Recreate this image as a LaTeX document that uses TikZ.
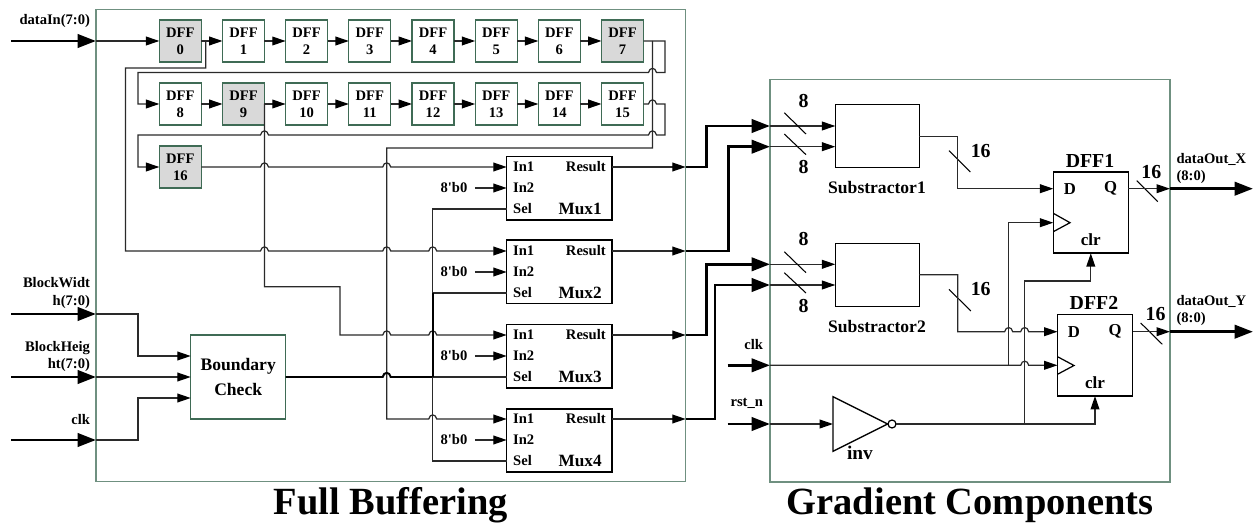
\documentclass[tikz,border=0pt]{standalone}
\usepackage{fontspec}
\usepackage{tikz}
\usetikzlibrary{positioning, arrows.meta}
\newfontfamily\diagfont{Liberation Serif}
\definecolor{framegreen}{HTML}{6F9080}
\definecolor{dffgreen}{HTML}{3F6B55}
\definecolor{wiregray}{HTML}{2A2A2A}
\newcommand{\hop}[2]{-- (#1-4,#2) .. controls (#1-3,#2-5.5) and (#1+3,#2-5.5) .. (#1+4,#2)}
\newcommand{\hopl}[2]{-- (#1+4,#2) .. controls (#1+3,#2-5.5) and (#1-3,#2-5.5) .. (#1-4,#2)}
\newcommand{\txt}[2]{\diagfont\bfseries\fontsize{#1}{#2}\selectfont}
\begin{document}
\begin{tikzpicture}[
x=0.02cm, y=-0.02cm,
every node/.style={inner sep=0pt, outer sep=0pt, align=center, font=\txt{8.3}{9.8}},
frame/.style={rectangle, draw=framegreen, line width=0.8pt},
dff/.style={rectangle, draw=dffgreen, line width=0.7pt, minimum size=8.4mm},
dffgray/.style={dff, fill=black!15},
mux/.style={rectangle, draw=black, line width=0.9pt, minimum width=21.1mm, minimum height=12.7mm},
sub/.style={rectangle, draw=black, line width=0.9pt, minimum width=16.8mm, minimum height=12.6mm},
ff/.style={rectangle, draw=black, line width=0.9pt, minimum width=15mm, minimum height=16.3mm},
portin/.style={anchor=west, inner xsep=3.7pt, inner ysep=1pt},
portout/.style={anchor=east, inner xsep=3.6pt, inner ysep=1pt},
const/.style={inner xsep=4.2pt, inner ysep=1pt},
muxname/.style={anchor=east, font=\txt{9.8}{11}},
bits/.style={font=\txt{11.3}{13}},
title/.style={font=\txt{21.9}{26}},
inlabel/.style={anchor=east, align=right},
outlabel/.style={anchor=west, align=left},
net/.style={draw=wiregray, line width=0.7pt},
wire/.style={net, -{Triangle[length=7.6pt,width=5pt,color=black]}},
bus/.style={draw=black, line width=1.7pt, -{Triangle[length=10.5pt,width=7.6pt]}},
slash/.style={draw=black, line width=0.6pt}
]
\useasboundingbox (0,0) rectangle (1255,527);
\node[frame, minimum width=117.9mm, minimum height=94.4mm] (FB) at (390.85,245.7) {};
\node[frame, minimum width=80mm, minimum height=80.5mm] (GC) at (970,280.7) {};
\node[title] (FBname) at (391,505) {Full Buffering};
\node[title] (GCname) at (970,505) {Gradient Components};
\node[dffgray] (D0) at (180.3,41) {DFF\\0};
\node[dff] (D1) at (243.5,41) {DFF\\1};
\node[dff] (D2) at (306.6,41) {DFF\\2};
\node[dff] (D3) at (369.8,41) {DFF\\3};
\node[dff] (D4) at (433,41) {DFF\\4};
\node[dff] (D5) at (496.2,41) {DFF\\5};
\node[dff] (D6) at (559.3,41) {DFF\\6};
\node[dffgray] (D7) at (622.5,41) {DFF\\7};
\node[dff] (D8) at (180.3,104) {DFF\\8};
\node[dffgray] (D9) at (243.5,104) {DFF\\9};
\node[dff] (D10) at (306.6,104) {DFF\\10};
\node[dff] (D11) at (369.8,104) {DFF\\11};
\node[dff] (D12) at (433,104) {DFF\\12};
\node[dff] (D13) at (496.2,104) {DFF\\13};
\node[dff] (D14) at (559.3,104) {DFF\\14};
\node[dff] (D15) at (622.5,104) {DFF\\15};
\node[dffgray] (D16) at (180.3,167) {DFF\\16};
\node[dff, minimum width=19mm, minimum height=16.8mm, font=\txt{10}{12}] (BC) at (238.2,377) {Boundary\\[1.7pt]Check};
\node[mux] (M1) at (559.3,188.3) {};
\node[mux] (M2) at (559.3,271.7) {};
\node[mux] (M3) at (559.3,356.3) {};
\node[mux] (M4) at (559.3,440.5) {};
\node[portin] (M1In1) at (506.7,167) {In1};
\node[portin] (M1In2) at (506.7,188) {In2};
\node[portin] (M1Sel) at (506.7,209) {Sel};
\node[portout] (M1Res) at (612,167) {Result};
\node[muxname] (M1name) at (601.7,209) {Mux1};
\node[const] (M1b) at (454,188) {8'b0};
\node[portin] (M2In1) at (506.7,251) {In1};
\node[portin] (M2In2) at (506.7,272) {In2};
\node[portin] (M2Sel) at (506.7,293) {Sel};
\node[portout] (M2Res) at (612,251) {Result};
\node[muxname] (M2name) at (601.7,293) {Mux2};
\node[const] (M2b) at (454,272) {8'b0};
\node[portin] (M3In1) at (506.7,335) {In1};
\node[portin] (M3In2) at (506.7,356) {In2};
\node[portin] (M3Sel) at (506.7,377) {Sel};
\node[portout] (M3Res) at (612,335) {Result};
\node[muxname] (M3name) at (601.7,377) {Mux3};
\node[const] (M3b) at (454,356) {8'b0};
\node[portin] (M4In1) at (506.7,419) {In1};
\node[portin] (M4In2) at (506.7,440) {In2};
\node[portin] (M4Sel) at (506.7,461) {Sel};
\node[portout] (M4Res) at (612,419) {Result};
\node[muxname] (M4name) at (601.7,461) {Mux4};
\node[const] (M4b) at (454,440) {8'b0};
\node[sub] (S1) at (877.3,136.2) {};
\node[sub] (S2) at (877.3,274.8) {};
\node[font=\txt{10}{12}] (S1name) at (877,187.3) {Substractor1};
\node[font=\txt{10}{12}] (S2name) at (877,327) {Substractor2};
\node[ff] (FF1) at (1090.8,212.5) {};
\node[ff] (FF2) at (1095,355.3) {};
\node[bits] (FF1name) at (1090,160.7) {DFF1};
\node[bits] (FF2name) at (1094,302.7) {DFF2};
\node[font=\txt{9.5}{11}] (FF1D) at (1070,188.7) {D};
\node[font=\txt{9.5}{11}] (FF1Q) at (1110.7,188.7) {Q};
\node[font=\txt{9.7}{11}] (FF1clr) at (1090.8,239.3) {clr};
\node[font=\txt{9.5}{11}] (FF2D) at (1074,331.7) {D};
\node[font=\txt{9.5}{11}] (FF2Q) at (1115,331.7) {Q};
\node[font=\txt{9.7}{11}] (FF2clr) at (1095,382.7) {clr};
\node[circle, draw=black, line width=0.7pt, minimum size=1.6mm] (IB) at (892,424) {};
\node[font=\txt{11}{13}] (INVname) at (860,453) {inv};
\node[inlabel] (Ldata) at (90,20.7) {dataIn(7:0)};
\node[inlabel] (Lw) at (90,293) {BlockWidt\\h(7:0)};
\node[inlabel] (Lh) at (90,356.3) {BlockHeig\\ht(7:0)};
\node[inlabel] (Lclk) at (90,419.7) {clk};
\node[inlabel] (Gclk) at (763,344.3) {clk};
\node[inlabel] (Grst) at (763,403.7) {rst\_n};
\node[outlabel] (Lx) at (1176.5,168.3) {dataOut\_X\\(8:0)};
\node[outlabel] (Ly) at (1176.5,310.8) {dataOut\_Y\\(8:0)};
\node[bits] (B1a) at (803.5,100.7) {8};
\node[bits] (B1b) at (803.5,167) {8};
\node[bits] (B2a) at (803.5,239.3) {8};
\node[bits] (B2b) at (803.5,306) {8};
\node[bits] (B1c) at (980.7,150.7) {16};
\node[bits] (B2c) at (980.7,289.3) {16};
\node[bits] (B1d) at (1151.3,171.7) {16};
\node[bits] (B2d) at (1155.6,314.3) {16};
\coordinate (Pdata) at (11,41);
\coordinate (Edata) at (96,41);
\coordinate (Pw) at (11,314);
\coordinate (Ew) at (96,314);
\coordinate (Ph) at (11,377);
\coordinate (Eh) at (96,377);
\coordinate (Pclk) at (11,440);
\coordinate (Eclk) at (96,440);
\coordinate (O1) at (685.7,167);
\coordinate (O2) at (685.7,251);
\coordinate (O3) at (685.7,335);
\coordinate (O4) at (685.7,419);
\coordinate (G1) at (770,126);
\coordinate (G2) at (770,146.7);
\coordinate (G3) at (770,264.3);
\coordinate (G4) at (770,285);
\coordinate (Pgclk) at (727.6,365.3);
\coordinate (Egclk) at (770,365.3);
\coordinate (Prst) at (727.6,424);
\coordinate (Erst) at (770,424);
\coordinate (INVin) at (833,424);
\coordinate (X1) at (1170,188.7);
\coordinate (X1end) at (1253,188.7);
\coordinate (Y1) at (1170,331.7);
\coordinate (Y1end) at (1253,331.7);
\coordinate (FF1clk) at (1053.3,222.7);
\coordinate (FF2clk) at (1057.5,365.3);
\draw[bus] (Pdata) -- (Edata);
\draw[bus] (Pw) -- (Ew);
\draw[bus] (Ph) -- (Eh);
\draw[bus] (Pclk) -- (Eclk);
\draw[wire] (Edata) -- (D0);
\draw[wire] (D0) -- (D1);
\draw[wire] (D1) -- (D2);
\draw[wire] (D2) -- (D3);
\draw[wire] (D3) -- (D4);
\draw[wire] (D4) -- (D5);
\draw[wire] (D5) -- (D6);
\draw[wire] (D6) -- (D7);
\draw[wire] (D8) -- (D9);
\draw[wire] (D9) -- (D10);
\draw[wire] (D10) -- (D11);
\draw[wire] (D11) -- (D12);
\draw[wire] (D12) -- (D13);
\draw[wire] (D13) -- (D14);
\draw[wire] (D14) -- (D15);
\draw[wire] (D7) -- (665,41) -- (665,72.5) \hopl{652.5}{72.5} -- (138,72.5) -- (138,104) -- (D8);
\draw[wire] (D15) \hop{652.5}{104} -- (665,104) -- (665,135) \hopl{652.5}{135} \hopl{264.5}{135} -- (138,135) -- (138,167) -- (D16);
\draw[wire] (D16) \hop{264.5}{167} \hop{386.7}{167} -- (M1In1);
\draw[wire] (205.7,41) -- (205.7,68) -- (125.5,68) -- (125.5,251) \hop{264.5}{251} \hop{386.7}{251} \hop{432.7}{251} -- (M2In1);
\draw[wire] (D9.east) -- (264.5,286.7) -- (340,286.7) -- (340,335) \hop{386.7}{335} \hop{432.7}{335} -- (M3In1);
\draw[wire] (652.5,41) -- (652.5,148) -- (386.7,148) -- (386.7,419) \hop{432.7}{419} -- (M4In1);
\draw[wire] (Ew) -- (138,314) -- (138,356) -- (BC.west |- 0,356);
\draw[wire] (Eh) -- (BC);
\draw[wire] (Eclk) -- (138,440) -- (138,398) -- (BC.west |- 0,398);
\draw[draw=black, line width=1.1pt] (BC) \hop{386.7}{377} -- (432.7,377);
\draw[net] (432.7,377) -- (M3Sel);
\draw[net] (M1Sel) -- (432.7,209) -- (432.7,461) -- (M4Sel);
\draw[net] (432.7,293) -- (M2Sel);
\draw[draw=black, line width=1.1pt] (432.7,293) -- (432.7,377);
\draw[wire] (M1b) -- (M1In2);
\draw[wire] (M2b) -- (M2In2);
\draw[wire] (M3b) -- (M3In2);
\draw[wire] (M4b) -- (M4In2);
\draw[wire] (M1Res) -- (O1);
\draw[wire] (M2Res) -- (O2);
\draw[wire] (M3Res) -- (O3);
\draw[wire] (M4Res) -- (O4);
\draw[bus] (O1) -- (706.7,167) -- (706.7,126) -- (G1);
\draw[bus] (O2) -- (728.3,251) -- (728.3,146.7) -- (G2);
\draw[bus] (O3) -- (706.7,335) -- (706.7,264.3) -- (G3);
\draw[bus] (O4) -- (715,419) -- (715,285) -- (G4);
\draw[wire] (G1) -- (S1.west |- G1);
\draw[wire] (G2) -- (S1.west |- G2);
\draw[wire] (G3) -- (S2.west |- G3);
\draw[wire] (G4) -- (S2.west |- G4);
\draw[slash] (784.3,112.7) -- (806,134);
\draw[slash] (784.3,134) -- (806,154.7);
\draw[slash] (784.3,251.7) -- (806,272.7);
\draw[slash] (784.3,272.7) -- (806,293);
\draw[slash] (949,150.7) -- (970.3,172);
\draw[slash] (949,289.3) -- (970.8,311);
\draw[slash] (1136.7,180.7) -- (1157.7,201.7);
\draw[slash] (1140.7,323) -- (1162.3,344.3);
\draw[wire] (S1.east) -- (957.7,136.2) -- (957.7,188.7) -- (FF1.west |- FF1D);
\draw[wire] (S2.east) -- (957.7,274.8) -- (957.7,331.7) \hop{1008.7}{331.7} \hop{1024.7}{331.7} -- (FF2.west |- FF2D);
\draw[wire] (FF1.east |- FF1Q) -- (X1);
\draw[wire] (FF2.east |- FF2Q) -- (Y1);
\draw[bus] (X1) -- (X1end);
\draw[bus] (Y1) -- (Y1end);
\draw[bus] (Pgclk) -- (Egclk);
\draw[bus] (Prst) -- (Erst);
\draw[wire] (Egclk) \hop{1024.7}{365.3} -- (FF2clk);
\draw[wire] (1008.7,365.3) -- (1008.7,222.7) -- (FF1clk);
\draw[wire] (Erst) -- (INVin);
\draw[draw=black, line width=0.8pt] (833,396.7) -- (833,451.3) -- (887.6,424) -- cycle;
\draw[wire] (IB) -| (FF2.south);
\draw[wire] (1024.7,424) -- (1024.7,281) -| (FF1.south);
\draw[draw=black, line width=0.7pt] (1053.3,213.3) -- (1070,222.7) -- (1053.3,231.7);
\draw[draw=black, line width=0.7pt] (1057.5,356.7) -- (1074,365.5) -- (1057.5,374.3);
\end{tikzpicture}
\end{document}
